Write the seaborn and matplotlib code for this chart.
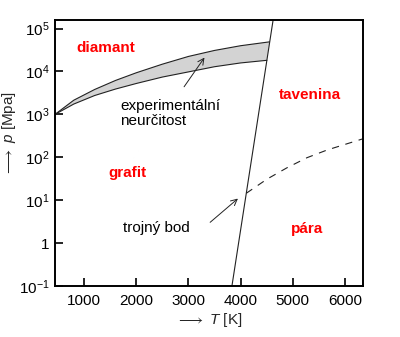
import numpy as np
import matplotlib
matplotlib.use("Agg")
import matplotlib.pyplot as plt
from matplotlib.ticker import NullLocator
import seaborn as sns

# ---- data ----
T_upper = [440, 800, 1200, 1600, 2000, 2500, 3000, 3500, 4000, 4555]
p_upper = [1000, 2140, 3800, 6170, 9330, 14800, 22400, 30900, 39800, 49000]
T_lower = [440, 800, 1200, 1600, 2000, 2500, 3000, 3500, 4000, 4505]
p_lower = [1000, 1740, 2750, 3890, 5250, 7410, 9770, 12900, 15800, 18200]
T_melt = [3835, 4625]
p_melt = [0.1, 158000]
T_vap = [4110, 4508, 4892, 5277, 5662, 6350]
p_vap = [14.5, 31, 57, 98, 148, 270]

yticks = [0.1, 1, 10, 100, 1000, 1e4, 1e5]
ytick_labels = ["$10^{-1}$", "1", "$10^{1}$", "$10^{2}$", "$10^{3}$", "$10^{4}$", "$10^{5}$"]
xticks = [1000, 2000, 3000, 4000, 5000, 6000]

phase_labels = ["diamant", "tavenina", "grafit", "pára"]
phase_T = [1420, 5340, 1830, 5285]
phase_p = [3.5e4, 2900, 44, 2.14]

sns.set_theme(style="ticks")
plt.rcParams["font.family"] = ["Liberation Sans", "DejaVu Sans"]
plt.rcParams["mathtext.fontset"] = "custom"
plt.rcParams["mathtext.rm"] = "Liberation Sans"
plt.rcParams["mathtext.it"] = "Liberation Sans:italic"
plt.rcParams["mathtext.bf"] = "Liberation Sans:bold"
plt.rcParams["mathtext.fallback"] = "stixsans"

fig, ax = plt.subplots(figsize=(4, 3.37), dpi=100)
fig.subplots_adjust(left=0.1375, right=0.9075, top=0.9407, bottom=0.1513)
ax.set_yscale("log")

# uncertainty band
ax.fill(np.r_[T_upper, T_lower[::-1]], np.r_[p_upper, p_lower[::-1]],
        color="#d3d3d3", lw=0, zorder=1)
line_kw = dict(color="#222222", lw=0.8, sort=False, estimator=None, ax=ax, zorder=2)
sns.lineplot(x=T_upper, y=p_upper, **line_kw)
sns.lineplot(x=T_lower, y=p_lower, **line_kw)
sns.lineplot(x=T_melt, y=p_melt, **line_kw)
sns.lineplot(x=T_vap, y=p_vap, linestyle=(0, (6.5, 6)), **line_kw)

ax.set_xlim(440, 6350)
ax.set_ylim(0.1, 10 ** 5.2)
ax.set_yticks(yticks, ytick_labels)
ax.set_xticks(xticks)
ax.yaxis.set_minor_locator(NullLocator())
ax.xaxis.set_minor_locator(NullLocator())

for s in ax.spines.values():
    s.set_linewidth(1.4)
    s.set_color("black")
ax.tick_params(direction="in", length=5.5, width=1.2, labelsize=11,
               colors="black", top=False, right=False)
ax.tick_params(axis="x", pad=6)
ax.tick_params(axis="y", pad=4)

ax.set_xlabel(r"$\longrightarrow$ $T$ [K]", fontsize=11, labelpad=2)
ax.set_ylabel(r"$\longrightarrow$ $p$ [Mpa]", fontsize=11)
ax.yaxis.set_label_coords(-0.12, 0.575)

for lab, t, p in zip(phase_labels, phase_T, phase_p):
    ax.text(t, p, lab, color="#ff0000", fontsize=11, fontweight="bold",
            ha="center", va="center")

ax.text(1690, 1050, "experimentální\nneurčitost", fontsize=11, ha="left",
        va="center", linespacing=1.05, color="black")
ax.text(1750, 2.24, "trojný bod", fontsize=11, ha="left", va="center", color="black")

arrow = dict(arrowstyle="->", lw=0.7, color="#222222", shrinkA=0, shrinkB=0,
             mutation_scale=11)
ax.annotate("", xy=(3308, 21100), xytext=(2917, 4400), arrowprops=arrow)
ax.annotate("", xy=(3950, 10.9), xytext=(3417, 3.05), arrowprops=arrow)

fig.savefig("out.png", dpi=100)
